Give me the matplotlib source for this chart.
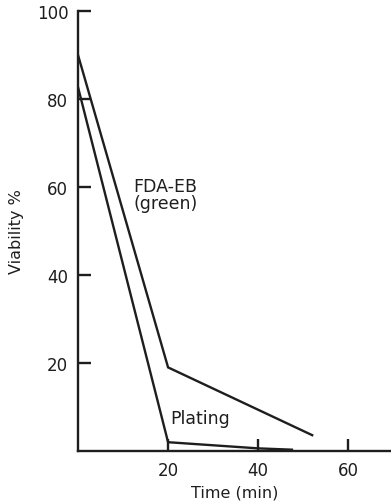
import matplotlib.pyplot as plt

# viability over time
fda_time = [0, 20, 52]
fda_viability = [90, 19, 3.6]

plating_time = [0, 20, 40, 47.5]
plating_viability = [82.7, 2, 0.6, 0.3]

y_ticks = [20, 40, 60, 80, 100]
x_ticks = [20, 40, 60]

ink = '#1e1e1e'

fig = plt.figure(figsize=(3.91, 5.02), dpi=100)
ax = fig.add_axes([0.1995, 0.0996, 0.8005, 0.8765])

ax.plot(fda_time, fda_viability, color=ink, lw=1.7, solid_joinstyle='miter')
ax.plot(plating_time, plating_viability, color=ink, lw=1.7, solid_joinstyle='miter')

ax.set_xlim(0, 69.5)
ax.set_ylim(0, 100)
ax.spines['top'].set_visible(False)
ax.spines['right'].set_visible(False)
for s in ['left', 'bottom']:
    ax.spines[s].set_linewidth(1.7)
    ax.spines[s].set_color(ink)

ax.set_xticks(x_ticks)
ax.set_yticks(y_ticks)
ax.tick_params(direction='in', length=9, width=1.7, color=ink,
               labelsize=12, labelcolor=ink, pad=7)
ax.tick_params(axis='y', pad=7)

ax.set_ylabel('Viability %', fontsize=11.5, color=ink, labelpad=9)
ax.set_xlabel('Time (min)', fontsize=11.5, color=ink, labelpad=4)

ax.text(12.2, 59.1, 'FDA-EB', fontsize=12.5, color=ink, va='baseline', ha='left')
ax.text(12.4, 55.2, '(green)', fontsize=12.5, color=ink, va='baseline', ha='left')
ax.text(20.4, 6.4, 'Plating', fontsize=12.5, color=ink, va='baseline', ha='left')

fig.savefig('out.png', dpi=100)
